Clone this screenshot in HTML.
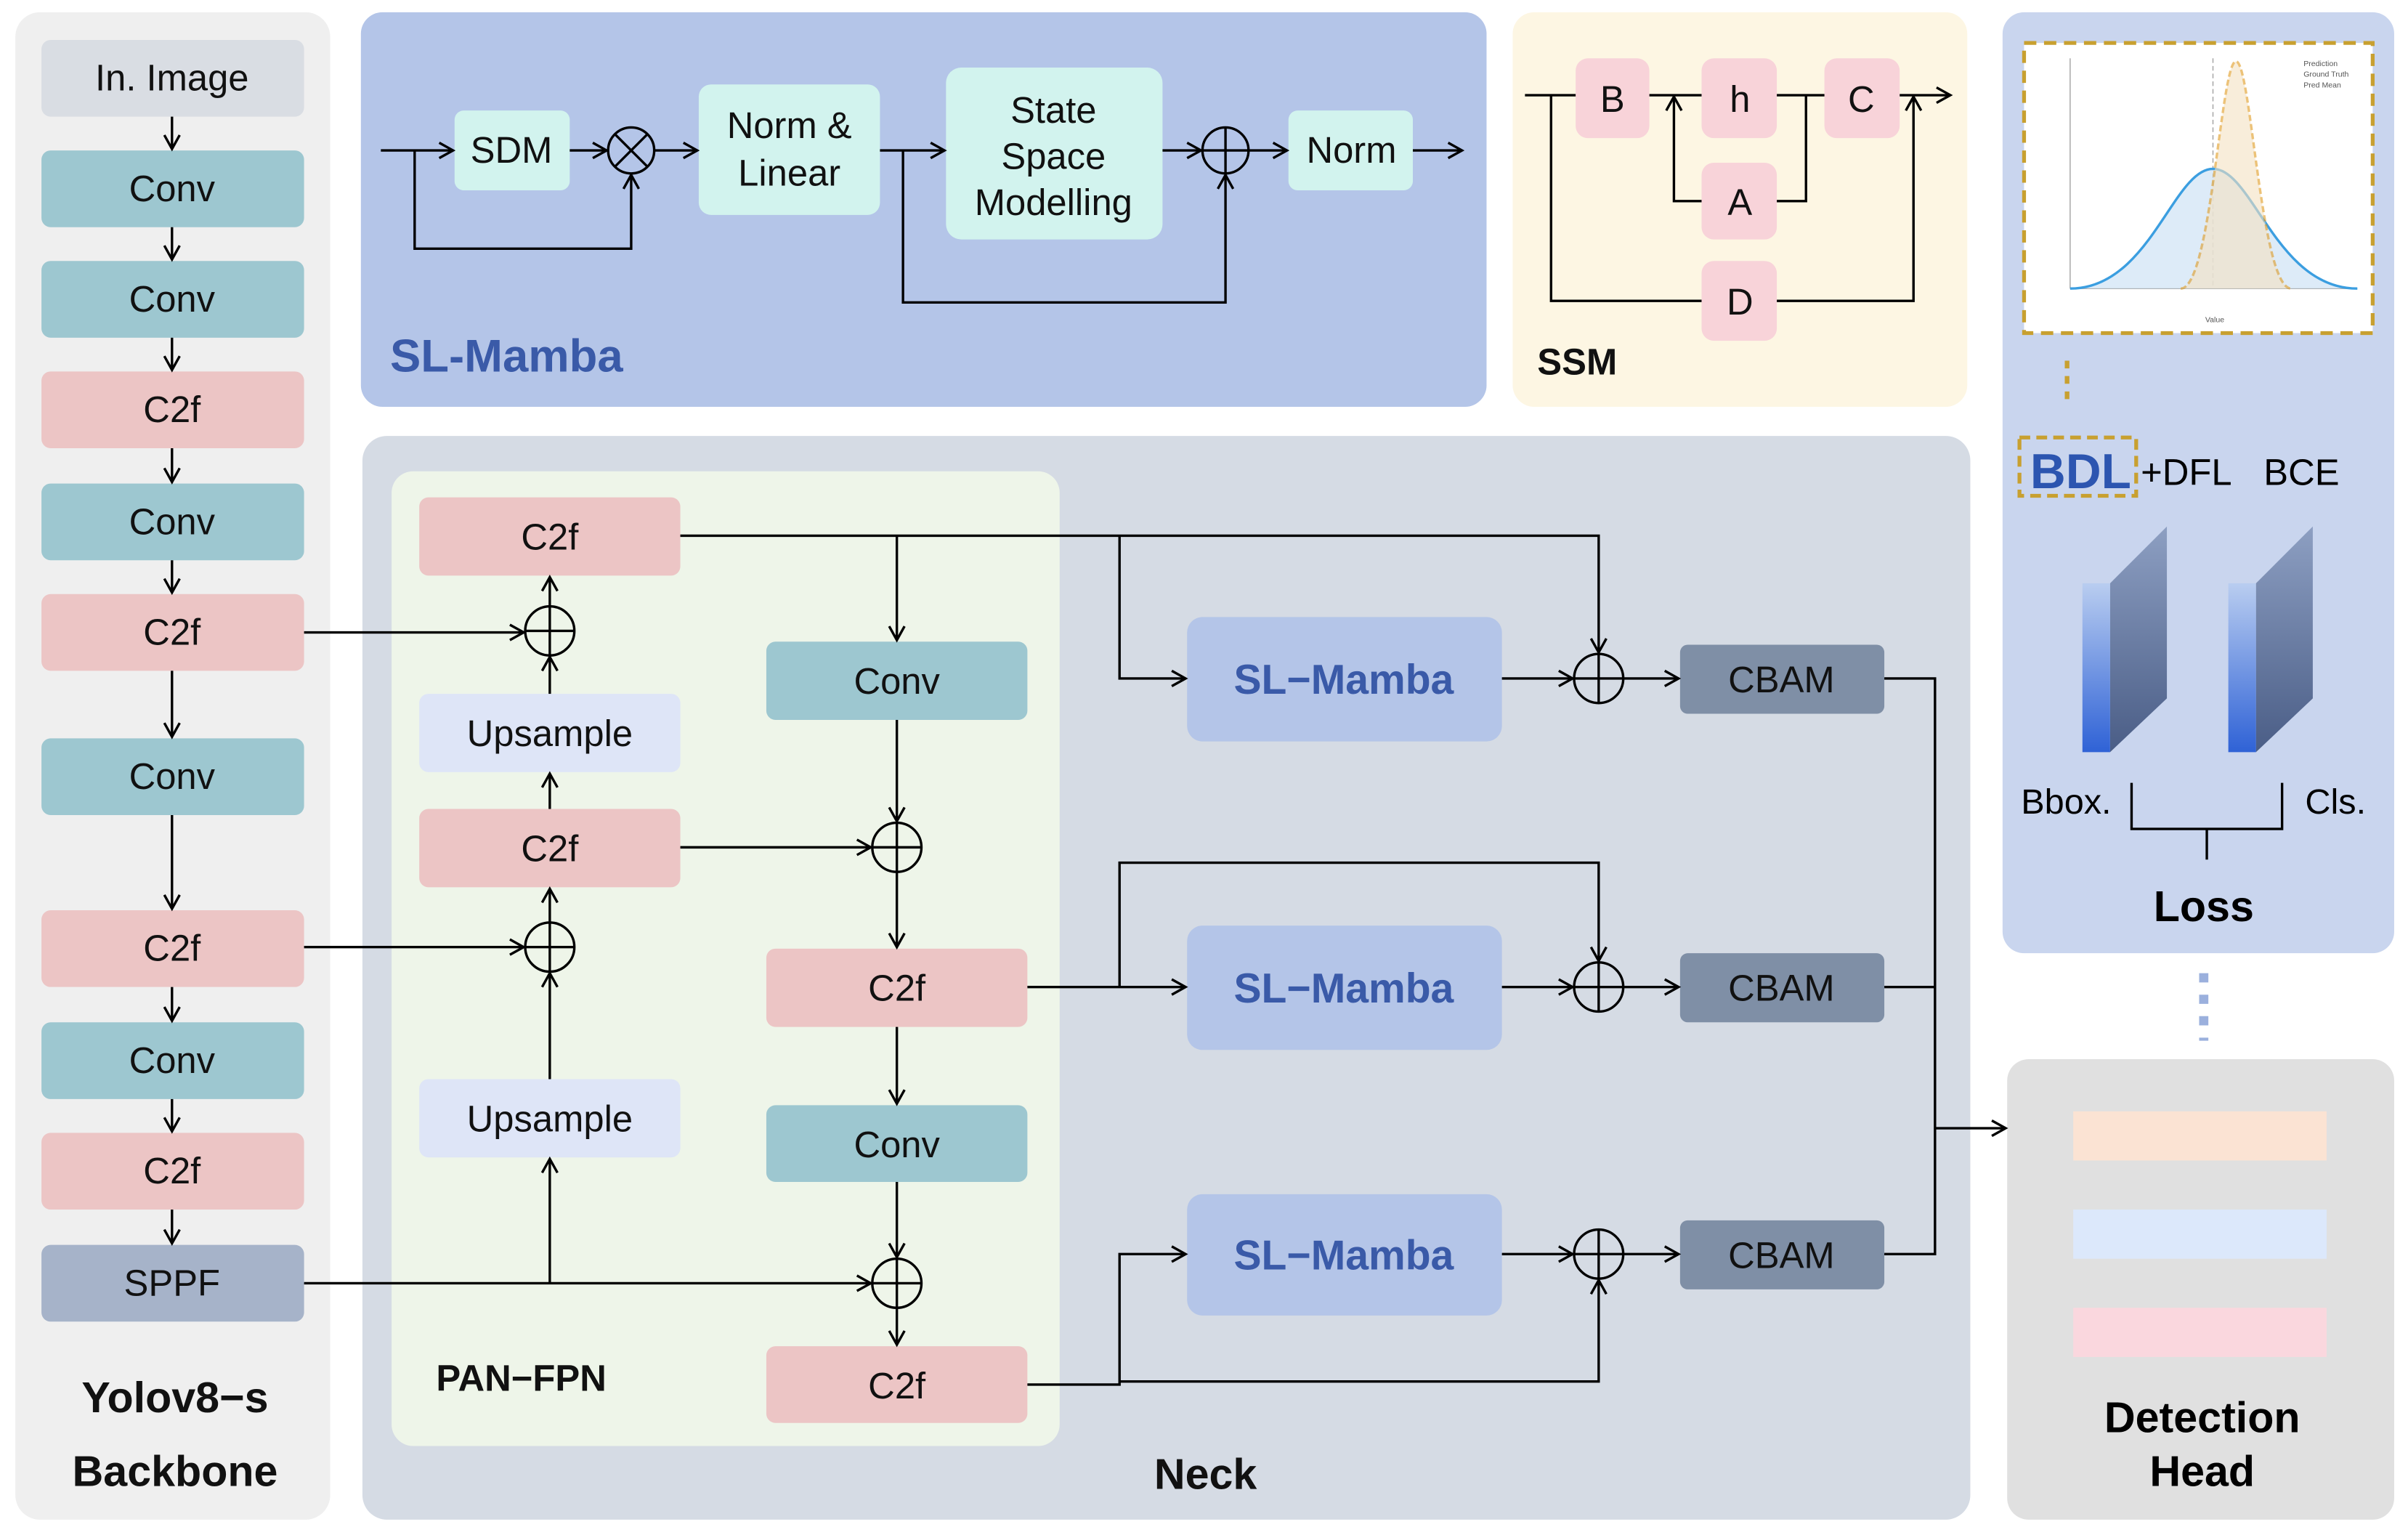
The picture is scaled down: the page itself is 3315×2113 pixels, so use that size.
<!DOCTYPE html>
<html><head><meta charset="utf-8"><style>
html,body{margin:0;padding:0;background:#fff;}
svg{display:block;}
text{font-family:"Liberation Sans",Arial,sans-serif;}
</style></head><body>
<svg width="3315" height="2113" viewBox="0 0 1568 1000" preserveAspectRatio="none" xmlns="http://www.w3.org/2000/svg">
<defs>
<marker id="a" markerWidth="12" markerHeight="12" refX="10" refY="6" orient="auto" markerUnits="userSpaceOnUse">
<path d="M1,1 L10,6 L1,11" fill="none" stroke="#000" stroke-width="1.6"/></marker>
<linearGradient id="gf" x1="0" y1="0" x2="0" y2="1"><stop offset="0" stop-color="#b9cdf0"/><stop offset="1" stop-color="#2f62d6"/></linearGradient>
<linearGradient id="gs" x1="0" y1="0" x2="0" y2="1"><stop offset="0" stop-color="#8d9fc2"/><stop offset="1" stop-color="#4a5d86"/></linearGradient>
</defs>
<g stroke-linejoin="round">
<rect x="10" y="8" width="205" height="982" rx="16" fill="#efefef"/>
<rect x="235" y="8" width="733" height="257" rx="14" fill="#b4c5e8"/>
<rect x="985" y="8" width="296" height="257" rx="14" fill="#fdf6e3"/>
<rect x="1304" y="8" width="255" height="613" rx="14" fill="#c9d5ee"/>
<rect x="1307" y="690" width="252" height="300" rx="14" fill="#e0e0e0"/>
<rect x="236" y="284" width="1047" height="706" rx="16" fill="#d5dbe4"/>
<rect x="255" y="307" width="435" height="635" rx="14" fill="#eef5e9"/>
</g>
<g font-size="24" text-anchor="middle" fill="#111">
<rect x="27" y="26" width="171" height="50" rx="6" fill="#d9dde3"/><text x="112" y="59">In. Image</text>
<rect x="27" y="98" width="171" height="50" rx="6" fill="#9dc7d0"/><text x="112" y="131">Conv</text>
<rect x="27" y="170" width="171" height="50" rx="6" fill="#9dc7d0"/><text x="112" y="203">Conv</text>
<rect x="27" y="242" width="171" height="50" rx="6" fill="#ecc5c5"/><text x="112" y="275">C2f</text>
<rect x="27" y="315" width="171" height="50" rx="6" fill="#9dc7d0"/><text x="112" y="348">Conv</text>
<rect x="27" y="387" width="171" height="50" rx="6" fill="#ecc5c5"/><text x="112" y="420">C2f</text>
<rect x="27" y="481" width="171" height="50" rx="6" fill="#9dc7d0"/><text x="112" y="514">Conv</text>
<rect x="27" y="593" width="171" height="50" rx="6" fill="#ecc5c5"/><text x="112" y="626">C2f</text>
<rect x="27" y="666" width="171" height="50" rx="6" fill="#9dc7d0"/><text x="112" y="699">Conv</text>
<rect x="27" y="738" width="171" height="50" rx="6" fill="#ecc5c5"/><text x="112" y="771">C2f</text>
<rect x="27" y="811" width="171" height="50" rx="6" fill="#a6b3c9"/><text x="112" y="844">SPPF</text>
<text x="114" y="920" font-size="28" font-weight="bold">Yolov8−s</text>
<text x="114" y="968" font-size="28" font-weight="bold">Backbone</text>
</g>
<g stroke="#000" stroke-width="1.6" fill="none" marker-end="url(#a)">
<line x1="112" y1="76" x2="112" y2="97"/><line x1="112" y1="148" x2="112" y2="169"/>
<line x1="112" y1="220" x2="112" y2="241"/><line x1="112" y1="292" x2="112" y2="314"/>
<line x1="112" y1="365" x2="112" y2="386"/><line x1="112" y1="437" x2="112" y2="480"/>
<line x1="112" y1="531" x2="112" y2="592"/><line x1="112" y1="643" x2="112" y2="665"/>
<line x1="112" y1="716" x2="112" y2="737"/><line x1="112" y1="788" x2="112" y2="810"/>
</g>

<g font-size="24" text-anchor="middle" fill="#111">
<rect x="296" y="72" width="75" height="52" rx="6" fill="#d2f3ee"/><text x="333" y="106">SDM</text>
<rect x="455" y="55" width="118" height="85" rx="8" fill="#d2f3ee"/><text x="514" y="90">Norm &amp;</text><text x="514" y="121">Linear</text>
<rect x="616" y="44" width="141" height="112" rx="10" fill="#d2f3ee"/><text x="686" y="80">State</text><text x="686" y="110">Space</text><text x="686" y="140">Modelling</text>
<rect x="839" y="72" width="81" height="52" rx="6" fill="#d2f3ee"/><text x="880" y="106">Norm</text>
<text x="254" y="242" font-size="30" font-weight="bold" fill="#3a5aa8" text-anchor="start">SL-Mamba</text>
</g>
<g stroke="#000" stroke-width="1.6" fill="none">
<circle cx="411" cy="98" r="15"/><line x1="400" y1="87" x2="422" y2="109"/><line x1="422" y1="87" x2="400" y2="109"/>
<circle cx="798" cy="98" r="15"/><line x1="783" y1="98" x2="813" y2="98"/><line x1="798" y1="83" x2="798" y2="113"/>
<g marker-end="url(#a)">
<line x1="248" y1="98" x2="295" y2="98"/>
<polyline points="270,98 270,162 411,162 411,114"/>
<line x1="371" y1="98" x2="395" y2="98"/>
<line x1="426" y1="98" x2="454" y2="98"/>
<line x1="573" y1="98" x2="615" y2="98"/>
<polyline points="588,98 588,197 798,197 798,114"/>
<line x1="757" y1="98" x2="782" y2="98"/>
<line x1="813" y1="98" x2="838" y2="98"/>
<line x1="920" y1="98" x2="952" y2="98"/>
</g></g>

<g font-size="24" text-anchor="middle" fill="#111">
<rect x="1026" y="38" width="48" height="52" rx="8" fill="#f8d3d9"/><text x="1050" y="73">B</text>
<rect x="1108" y="38" width="49" height="52" rx="8" fill="#f8d3d9"/><text x="1133" y="73">h</text>
<rect x="1188" y="38" width="49" height="52" rx="8" fill="#f8d3d9"/><text x="1212" y="73">C</text>
<rect x="1108" y="106" width="49" height="50" rx="8" fill="#f8d3d9"/><text x="1133" y="140">A</text>
<rect x="1108" y="170" width="49" height="52" rx="8" fill="#f8d3d9"/><text x="1133" y="205">D</text>
<text x="1001" y="244" font-size="24" font-weight="bold" text-anchor="start">SSM</text>
</g>
<g stroke="#000" stroke-width="1.6" fill="none">
<line x1="993" y1="62" x2="1026" y2="62"/>
<polyline points="1010,62 1010,196 1108,196"/>
<line x1="1074" y1="62" x2="1108" y2="62"/>
<line x1="1157" y1="62" x2="1188" y2="62"/>
<polyline points="1176,62 1176,131 1157,131"/>
<polyline points="1108,131 1090,131 1090,63" marker-end="url(#a)"/>
<polyline points="1157,196 1246,196 1246,63" marker-end="url(#a)"/>
<line x1="1237" y1="62" x2="1270" y2="62" marker-end="url(#a)"/>
</g>

<rect x="1318" y="28" width="227" height="189" fill="#fff" stroke="#c8a030" stroke-width="2.5" stroke-dasharray="8,5"/>
<g stroke="#999" stroke-width="0.6" fill="none"><line x1="1348" y1="188" x2="1535" y2="188"/><line x1="1348" y1="38" x2="1348" y2="188"/><line x1="1441" y1="38" x2="1441" y2="188" stroke-dasharray="3,2"/></g>
<path d="M1348,188 C1400,188 1415,110 1441,110 C1467,110 1482,188 1535,188 Z" fill="#cfe3f5" opacity="0.7"/>
<path d="M1348,188 C1400,188 1415,110 1441,110 C1467,110 1482,188 1535,188" fill="none" stroke="#3b9ee0" stroke-width="1.6"/>
<path d="M1420,188 C1440,188 1446,40 1456,40 C1466,40 1472,188 1492,188" fill="#f5e2c2" opacity="0.6" stroke="#e09a20" stroke-width="1.6" stroke-dasharray="4,2"/>
<g font-size="5" fill="#555"><text x="1500" y="43">Prediction</text><text x="1500" y="50">Ground Truth</text><text x="1500" y="57">Pred Mean</text><text x="1436" y="210">Value</text></g>
<line x1="1346" y1="235" x2="1346" y2="264" stroke="#c8a030" stroke-width="3" stroke-dasharray="5,5"/>
<rect x="1315" y="285" width="76" height="38" fill="none" stroke="#c8a030" stroke-width="2.5" stroke-dasharray="7,4"/>
<text x="1322" y="318" font-size="32" font-weight="bold" fill="#2c55b0">BDL</text>
<text x="1394" y="316" font-size="24">+DFL</text>
<text x="1474" y="316" font-size="24">BCE</text>
<path d="M1374,380 L1411,343 L1411,455 L1374,490 Z" fill="url(#gs)"/>
<rect x="1356" y="380" width="18" height="110" fill="url(#gf)"/>
<path d="M1469,380 L1506,343 L1506,455 L1469,490 Z" fill="url(#gs)"/>
<rect x="1451" y="380" width="18" height="110" fill="url(#gf)"/>
<text x="1316" y="530" font-size="23">Bbox.</text>
<text x="1501" y="530" font-size="23">Cls.</text>
<polyline points="1388,510 1388,540 1486,540 1486,510" fill="none" stroke="#000" stroke-width="1.6"/>
<line x1="1437" y1="540" x2="1437" y2="560" stroke="#000" stroke-width="1.6"/>
<text x="1435" y="600" font-size="28" font-weight="bold" text-anchor="middle">Loss</text>
<line x1="1435" y1="634" x2="1435" y2="678" stroke="#9bb0dd" stroke-width="6" stroke-dasharray="6,8"/>

<rect x="1350" y="724" width="165" height="32" fill="#fbe3d3"/>
<rect x="1350" y="788" width="165" height="32" fill="#dce8fb"/>
<rect x="1350" y="852" width="165" height="32" fill="#fad7de"/>
<text x="1434" y="933" font-size="28" font-weight="bold" text-anchor="middle">Detection</text>
<text x="1434" y="968" font-size="28" font-weight="bold" text-anchor="middle">Head</text>

<g font-size="24" text-anchor="middle" fill="#111">
<rect x="273" y="324" width="170" height="51" rx="6" fill="#ecc5c5"/><text x="358" y="358">C2f</text>
<rect x="273" y="452" width="170" height="51" rx="6" fill="#dee5f7"/><text x="358" y="486">Upsample</text>
<rect x="273" y="527" width="170" height="51" rx="6" fill="#ecc5c5"/><text x="358" y="561">C2f</text>
<rect x="273" y="703" width="170" height="51" rx="6" fill="#dee5f7"/><text x="358" y="737">Upsample</text>
<rect x="499" y="418" width="170" height="51" rx="6" fill="#9dc7d0"/><text x="584" y="452">Conv</text>
<rect x="499" y="618" width="170" height="51" rx="6" fill="#ecc5c5"/><text x="584" y="652">C2f</text>
<rect x="499" y="720" width="170" height="50" rx="6" fill="#9dc7d0"/><text x="584" y="754">Conv</text>
<rect x="499" y="877" width="170" height="50" rx="6" fill="#ecc5c5"/><text x="584" y="911">C2f</text>
<g font-weight="bold" font-size="27" fill="#3a5aa8">
<rect x="773" y="402" width="205" height="81" rx="10" fill="#b4c5e8"/><text x="875" y="452">SL−Mamba</text>
<rect x="773" y="603" width="205" height="81" rx="10" fill="#b4c5e8"/><text x="875" y="653">SL−Mamba</text>
<rect x="773" y="778" width="205" height="79" rx="10" fill="#b4c5e8"/><text x="875" y="827">SL−Mamba</text>
</g>
<rect x="1094" y="420" width="133" height="45" rx="5" fill="#7f8fa6"/><text x="1160" y="451">CBAM</text>
<rect x="1094" y="621" width="133" height="45" rx="5" fill="#7f8fa6"/><text x="1160" y="652">CBAM</text>
<rect x="1094" y="795" width="133" height="45" rx="5" fill="#7f8fa6"/><text x="1160" y="826">CBAM</text>
<text x="284" y="906" font-size="24" font-weight="bold" text-anchor="start">PAN−FPN</text>
<text x="785" y="970" font-size="28" font-weight="bold">Neck</text>
</g>
<g stroke="#000" stroke-width="1.6" fill="none">
<circle cx="358" cy="411" r="16"/><line x1="342" y1="411" x2="374" y2="411"/><line x1="358" y1="395" x2="358" y2="427"/>
<circle cx="358" cy="617" r="16"/><line x1="342" y1="617" x2="374" y2="617"/><line x1="358" y1="601" x2="358" y2="633"/>
<circle cx="584" cy="552" r="16"/><line x1="568" y1="552" x2="600" y2="552"/><line x1="584" y1="536" x2="584" y2="568"/>
<circle cx="584" cy="836" r="16"/><line x1="568" y1="836" x2="600" y2="836"/><line x1="584" y1="820" x2="584" y2="852"/>
<circle cx="1041" cy="442" r="16"/><line x1="1025" y1="442" x2="1057" y2="442"/><line x1="1041" y1="426" x2="1041" y2="458"/>
<circle cx="1041" cy="643" r="16"/><line x1="1025" y1="643" x2="1057" y2="643"/><line x1="1041" y1="627" x2="1041" y2="659"/>
<circle cx="1041" cy="817" r="16"/><line x1="1025" y1="817" x2="1057" y2="817"/><line x1="1041" y1="801" x2="1041" y2="833"/>
<g marker-end="url(#a)">
<line x1="198" y1="412" x2="341" y2="412"/>
<line x1="198" y1="617" x2="341" y2="617"/>
<line x1="198" y1="836" x2="567" y2="836"/>
<line x1="358" y1="836" x2="358" y2="755"/>
<line x1="358" y1="703" x2="358" y2="634"/>
<line x1="358" y1="601" x2="358" y2="579"/>
<line x1="358" y1="527" x2="358" y2="504"/>
<line x1="358" y1="452" x2="358" y2="428"/>
<line x1="358" y1="395" x2="358" y2="376"/>
<polyline points="443,349 1041,349 1041,425"/>
<line x1="584" y1="349" x2="584" y2="417"/>
<polyline points="729,349 729,442 772,442"/>
<line x1="584" y1="469" x2="584" y2="535"/>
<line x1="443" y1="552" x2="567" y2="552"/>
<line x1="584" y1="568" x2="584" y2="617"/>
<line x1="669" y1="643" x2="772" y2="643"/>
<polyline points="729,643 729,562 1041,562 1041,626"/>
<line x1="584" y1="669" x2="584" y2="719"/>
<line x1="584" y1="770" x2="584" y2="819"/>
<line x1="584" y1="852" x2="584" y2="876"/>
<polyline points="669,902 729,902 729,817 772,817"/>
<polyline points="729,900 1041,900 1041,834"/>
<line x1="978" y1="442" x2="1024" y2="442"/><line x1="1057" y1="442" x2="1093" y2="442"/>
<line x1="978" y1="643" x2="1024" y2="643"/><line x1="1057" y1="643" x2="1093" y2="643"/>
<line x1="978" y1="817" x2="1024" y2="817"/><line x1="1057" y1="817" x2="1093" y2="817"/>
<line x1="1260" y1="735" x2="1306" y2="735"/>
</g>
<polyline points="1227,442 1260,442 1260,817 1227,817"/>
<line x1="1227" y1="643" x2="1260" y2="643"/>
</g>
</svg>
</body></html>
